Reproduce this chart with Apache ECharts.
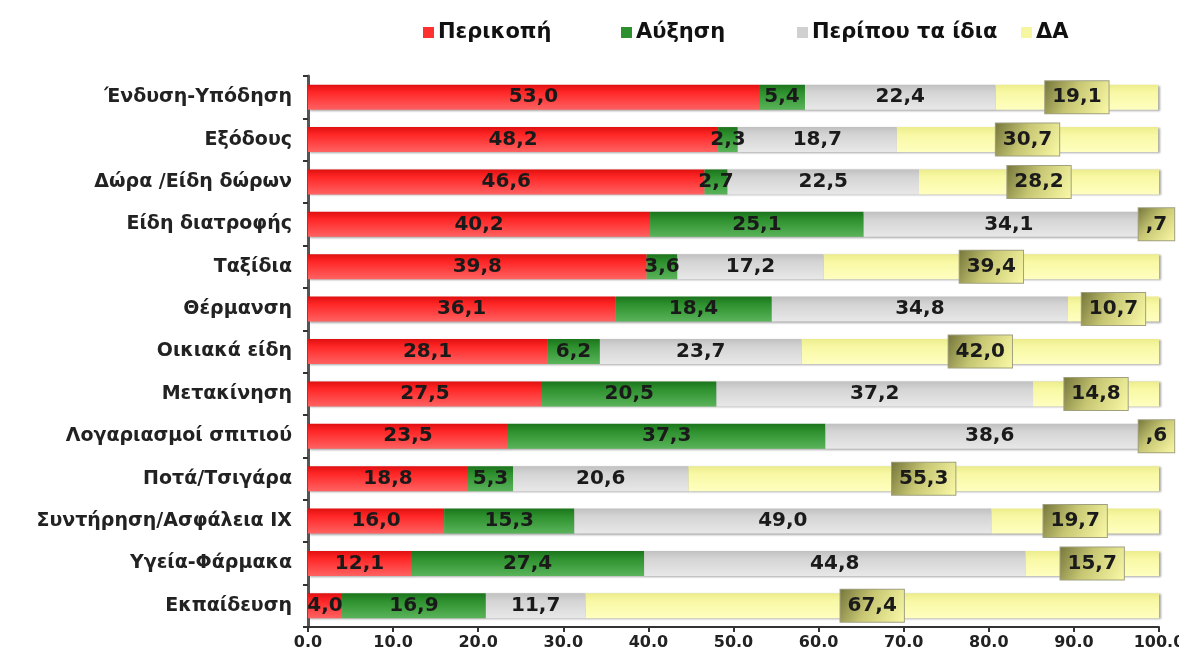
<!DOCTYPE html>
<html><head><meta charset="utf-8">
<script src="https://cdn.jsdelivr.net/npm/echarts@6/dist/echarts.min.js"></script>
<style>html,body{margin:0;padding:0;background:#fff}#c{width:1179px;height:655px}</style>
</head><body><div id="c"></div>
<script>
const categories = ['Ένδυση-Υπόδηση','Εξόδους','Δώρα /Είδη δώρων','Είδη διατροφής','Ταξίδια','Θέρμανση','Οικιακά είδη','Μετακίνηση','Λογαριασμοί σπιτιού','Ποτά/Τσιγάρα','Συντήρηση/Ασφάλεια ΙΧ','Υγεία-Φάρμακα','Εκπαίδευση'];
const seriesNames = ['Περικοπή','Αύξηση','Περίπου τα ίδια','ΔΑ'];
const cutValues  = [53.0, 48.2, 46.6, 40.2, 39.8, 36.1, 28.1, 27.5, 23.5, 18.8, 16.0, 12.1, 4.0];
const incValues  = [5.4, 2.3, 2.7, 25.1, 3.6, 18.4, 6.2, 20.5, 37.3, 5.3, 15.3, 27.4, 16.9];
const sameValues = [22.4, 18.7, 22.5, 34.1, 17.2, 34.8, 23.7, 37.2, 38.6, 20.6, 49.0, 44.8, 11.7];
const naValues   = [19.1, 30.7, 28.2, 0.7, 39.4, 10.7, 42.0, 14.8, 0.6, 55.3, 19.7, 15.7, 67.4];
const xTicks = [0,10,20,30,40,50,60,70,80,90,100];

const FONT = 'DejaVu Sans';
function fmt(v){ let s = v.toFixed(1).replace('.', ','); if (s.startsWith('0,')) s = s.slice(1); return s; }
function vgrad(a,b,c){ return new echarts.graphic.LinearGradient(0,0,0,1,[{offset:0,color:a},{offset:0.3,color:b},{offset:1,color:c}]); }

const colors = [
  vgrad('#e01010','#ff2626','#ff6262'),
  vgrad('#1c741c','#2d902d','#5ab45a'),
  vgrad('#c0c0c0','#d4d4d4','#e8e8e8'),
  vgrad('#ecec8c','#f8f8a4','#ffffc0')
];
const legendColors = ['#ff3030','#2e8f2e','#d0d0d0','#f6f6a0'];
const dataSets = [cutValues, incValues, sameValues, naValues];

const baseLabel = {
  show: true, position: 'inside', color: '#1a1a1a', fontFamily: FONT, fontWeight: 'bold', fontSize: 20,
  formatter: p => fmt(p.value)
};
const naLabel = Object.assign({}, baseLabel, {
  backgroundColor: new echarts.graphic.LinearGradient(0,0,1,1,[{offset:0,color:'#74743a'},{offset:0.45,color:'#c8c874'},{offset:1,color:'#fafaa8'}]),
  borderColor: '#a0a080', borderWidth: 1, padding: [7, 7, 5, 7]
});

const series = seriesNames.map((n,i)=>({
  name: n, type: 'bar', stack: 'all', barCategoryGap: '41%',
  itemStyle: { color: colors[i], shadowColor: 'rgba(0,0,0,0.35)', shadowBlur: 2, shadowOffsetX: 2, shadowOffsetY: 1 },
  label: i === 3 ? naLabel : baseLabel,
  emphasis: { disabled: true },
  data: dataSets[i]
}));

const legendPos = [418, 616, 792, 1016];
const legend = seriesNames.map((n,i)=>({
  data: [{name: n, itemStyle: {color: legendColors[i], shadowBlur: 0}}], left: legendPos[i], top: 17,
  icon: 'rect', itemWidth: 11, itemHeight: 11, itemGap: 5,
  textStyle: { fontFamily: FONT, fontWeight: 'bold', fontSize: 21, color: '#111', padding: [0,0,0,-1] },
  selectedMode: false
}));

const chart = echarts.init(document.getElementById('c'), null, {renderer: 'canvas'});
chart.setOption({
  animation: false,
  backgroundColor: '#ffffff',
  legend: legend,
  grid: { left: 308, right: 20, top: 76, bottom: 28, containLabel: false, outerBoundsMode: 'none' },
  xAxis: {
    type: 'value', min: 0, max: 100, interval: 10,
    axisLine: { show: true, lineStyle: { color: '#333', width: 2 } },
    axisTick: { show: true, length: 5, lineStyle: { color: '#333', width: 2 } },
    splitLine: { show: false },
    axisLabel: { fontFamily: FONT, fontWeight: 'bold', fontSize: 16, color: '#222', margin: 8,
      formatter: v => xTicks.includes(v) ? v.toFixed(1) : '' }
  },
  yAxis: {
    type: 'category', data: categories, inverse: true,
    axisLine: { show: true, lineStyle: { color: '#555', width: 3 } },
    axisTick: { show: true, length: 5, lineStyle: { color: '#333', width: 2 } },
    axisLabel: { fontFamily: FONT, fontWeight: 'bold', fontSize: 19, color: '#222', margin: 16 }
  },
  series: series
});
</script></body></html>
